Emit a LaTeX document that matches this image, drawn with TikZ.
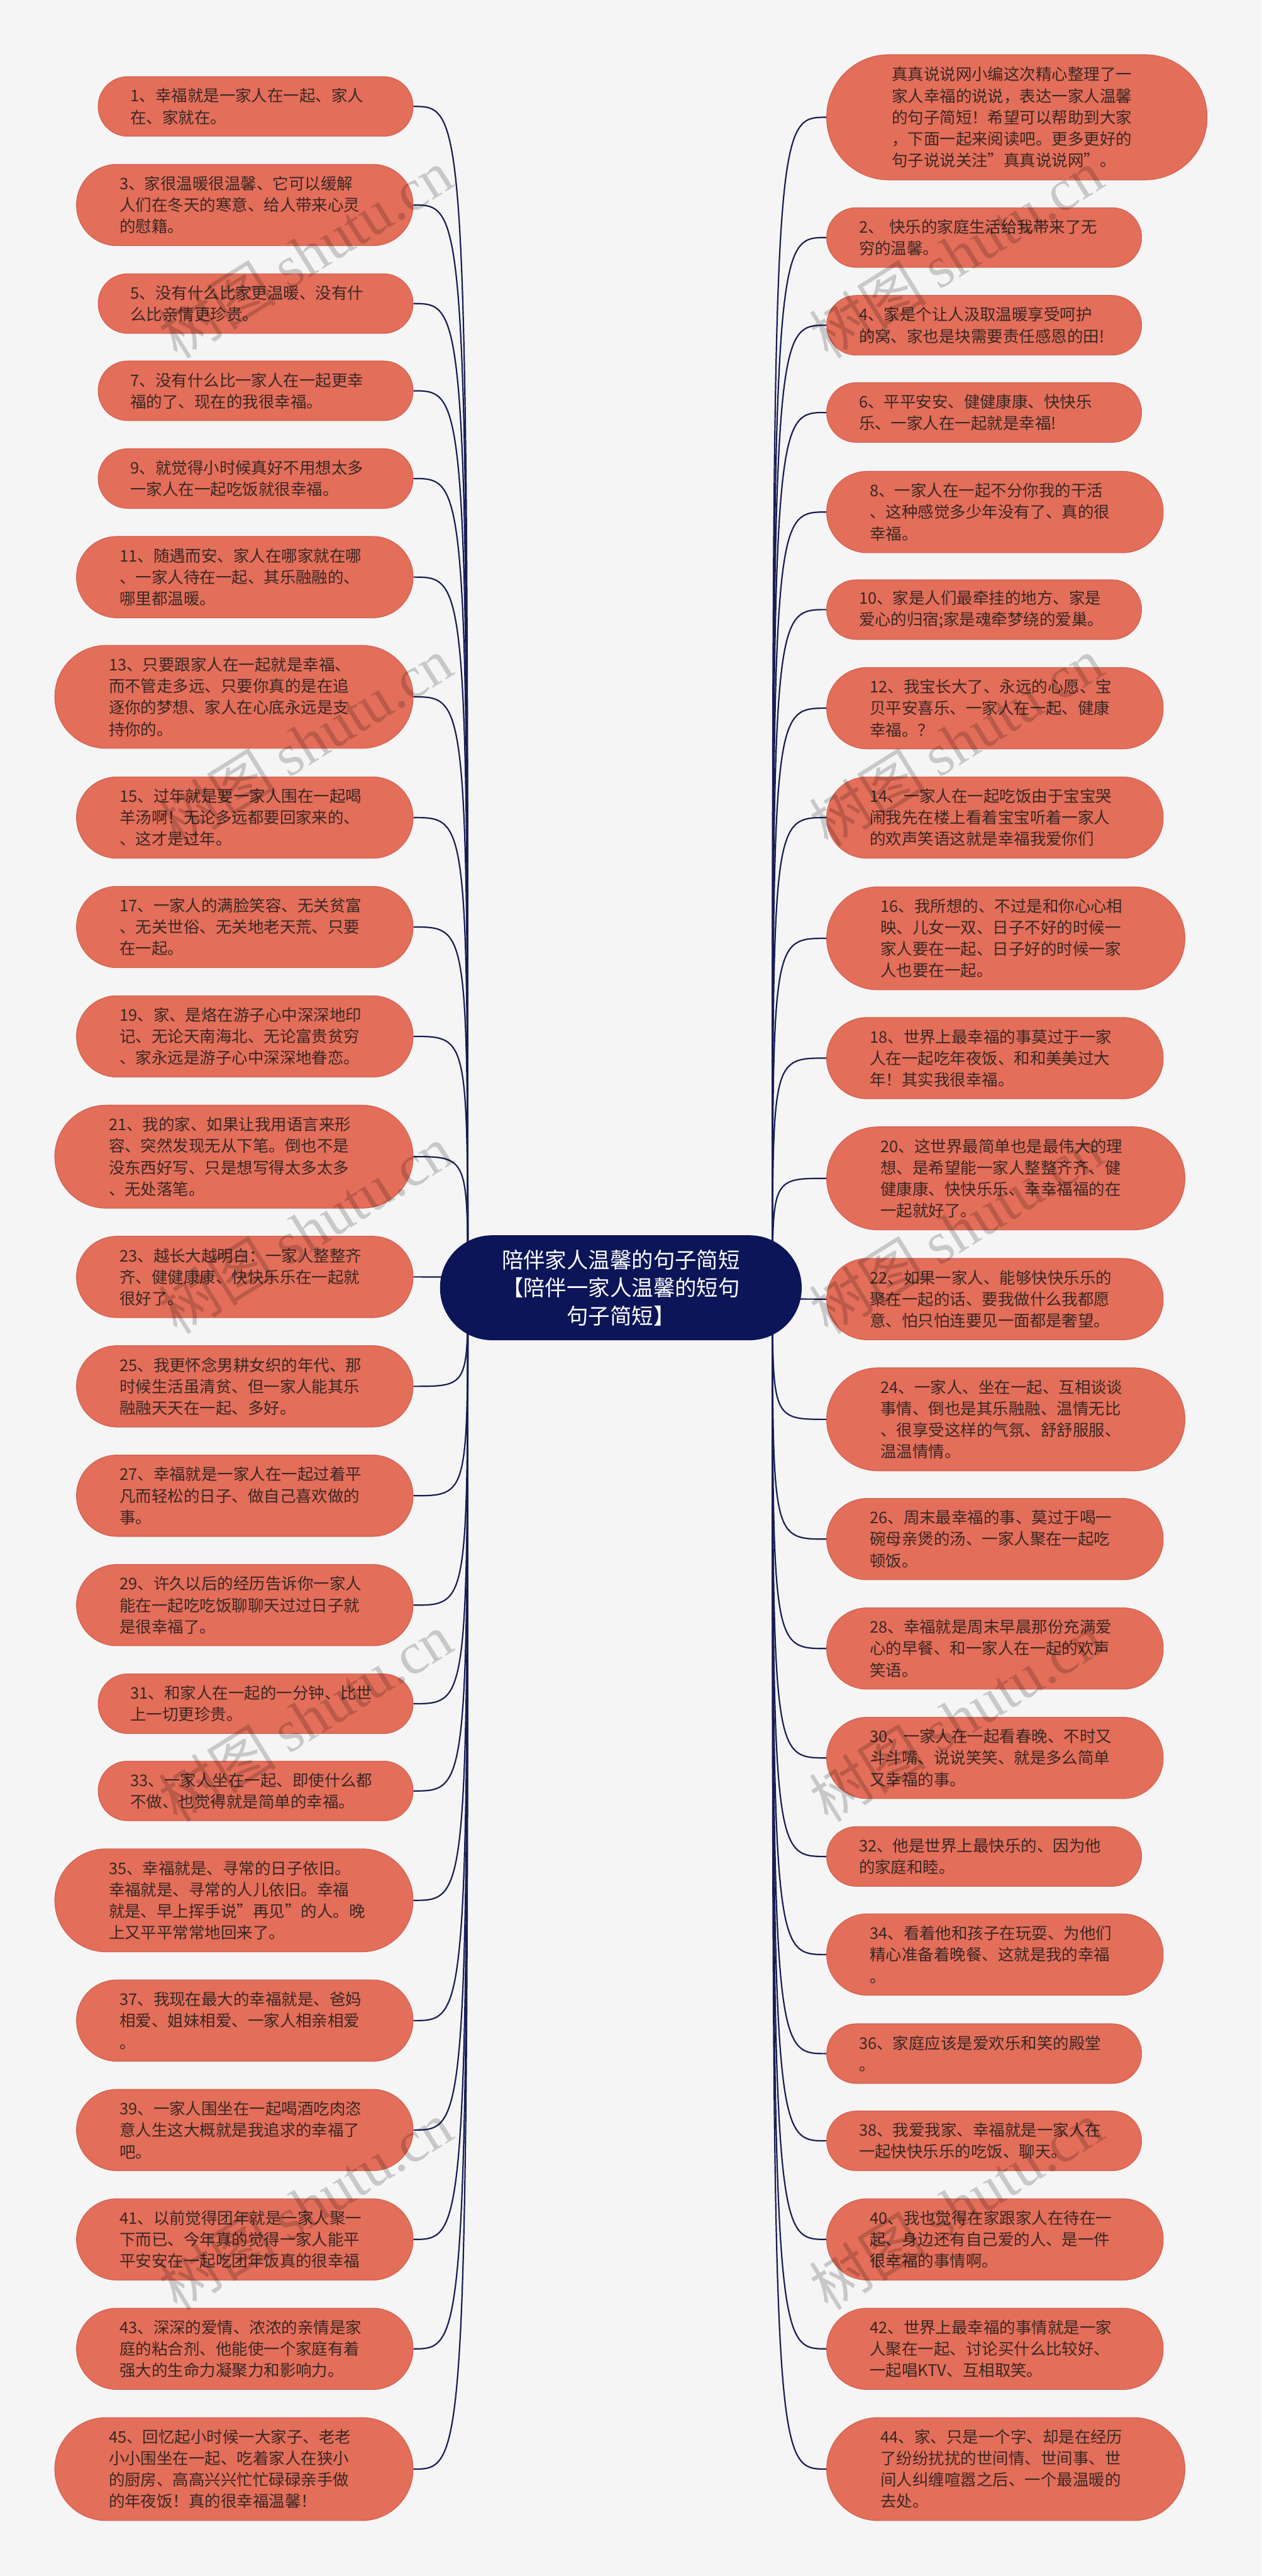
\documentclass[tikz,border=0pt]{standalone}
\usepackage{fontspec}
\setmainfont{Noto Sans CJK SC}
\newfontfamily\wmlatin{Liberation Serif}
\usetikzlibrary{calc,backgrounds}

\definecolor{bgcol}{RGB}{245,245,245}
\definecolor{leaf}{RGB}{227,110,90}
\definecolor{leafedge}{RGB}{212,96,78}
\definecolor{leaftext}{RGB}{58,40,36}
\definecolor{rootcol}{RGB}{11,21,88}
\definecolor{linkcol}{RGB}{24,30,84}

\tikzset{
  leafnode/.style={rectangle, fill=leaf, draw=leafedge, line width=0.4pt,
    text=leaftext, text width=5.08cm, inner xsep=0.05cm, inner ysep=2pt,
    align=left, font=\fontsize{9.25pt}{12.4pt}\selectfont},
  % 按行数决定胶囊大小
  h2/.style={minimum height=1.21cm, minimum width=6.39cm, rounded corners=0.6cm},
  h3/.style={minimum height=1.65cm, minimum width=6.83cm, rounded corners=0.82cm},
  h4/.style={minimum height=2.09cm, minimum width=7.27cm, rounded corners=1.04cm},
  h5/.style={minimum height=2.54cm, minimum width=7.72cm, rounded corners=1.26cm},
  lnode/.style={leafnode, anchor=east},
  rnode/.style={leafnode, anchor=west},
  rootnode/.style={rectangle, fill=rootcol, text=white, text width=5.1cm,
    inner xsep=0.05cm, inner ysep=2pt, align=center,
    minimum height=2.13cm, minimum width=7.34cm, rounded corners=1.06cm,
    font=\fontsize{12.5pt}{16.2pt}\selectfont},
  link/.style={draw=linkcol, line width=0.8pt},
  wmark/.style={rotate=32, text=black, text opacity=0.18,
    font=\fontsize{34pt}{34pt}\selectfont}
}

\begin{document}
\begin{tikzpicture}
  \def\xL{8.39}
  \def\xR{16.77}
  \useasboundingbox (0,0) rectangle (25.6,-52.27);

  % 中心主题
  \node[rootnode] (root) at (12.60,-26.13) {陪伴家人温馨的句子简短\\【陪伴一家人温馨的短句\\句子简短】};
  \coordinate (rl) at ($(root.west)+(0.57,0)$);
  \coordinate (rr) at ($(root.east)+(-0.60,0)$);

  % 左侧分支
  \node[lnode,h2] (l1) at (\xL,-2.16) {1、幸福就是一家人在一起、家人\\在、家就在。};
  \node[lnode,h3] (l3) at (\xL,-4.16) {3、家很温暖很温馨、它可以缓解\\人们在冬天的寒意、给人带来心灵\\的慰籍。};
  \node[lnode,h2] (l5) at (\xL,-6.16) {5、没有什么比家更温暖、没有什\\么比亲情更珍贵。};
  \node[lnode,h2] (l7) at (\xL,-7.93) {7、没有什么比一家人在一起更幸\\福的了、现在的我很幸福。};
  \node[lnode,h2] (l9) at (\xL,-9.71) {9、就觉得小时候真好不用想太多\\一家人在一起吃饭就很幸福。};
  \node[lnode,h3] (l11) at (\xL,-11.71) {11、随遇而安、家人在哪家就在哪\\、一家人待在一起、其乐融融的、\\哪里都温暖。};
  \node[lnode,h4] (l13) at (\xL,-14.14) {13、只要跟家人在一起就是幸福、\\而不管走多远、只要你真的是在追\\逐你的梦想、家人在心底永远是支\\持你的。};
  \node[lnode,h3] (l15) at (\xL,-16.59) {15、过年就是要一家人围在一起喝\\羊汤啊！无论多远都要回家来的、\\、这才是过年。};
  \node[lnode,h3] (l17) at (\xL,-18.81) {17、一家人的满脸笑容、无关贫富\\、无关世俗、无关地老天荒、只要\\在一起。};
  \node[lnode,h3] (l19) at (\xL,-21.03) {19、家、是烙在游子心中深深地印\\记、无论天南海北、无论富贵贫穷\\、家永远是游子心中深深地眷恋。};
  \node[lnode,h4] (l21) at (\xL,-23.47) {21、我的家、如果让我用语言来形\\容、突然发现无从下笔。倒也不是\\没东西好写、只是想写得太多太多\\、无处落笔。};
  \node[lnode,h3] (l23) at (\xL,-25.91) {23、越长大越明白：一家人整整齐\\齐、健健康康、快快乐乐在一起就\\很好了。};
  \node[lnode,h3] (l25) at (\xL,-28.13) {25、我更怀念男耕女织的年代、那\\时候生活虽清贫、但一家人能其乐\\融融天天在一起、多好。};
  \node[lnode,h3] (l27) at (\xL,-30.35) {27、幸福就是一家人在一起过着平\\凡而轻松的日子、做自己喜欢做的\\事。};
  \node[lnode,h3] (l29) at (\xL,-32.57) {29、许久以后的经历告诉你一家人\\能在一起吃吃饭聊聊天过过日子就\\是很幸福了。};
  \node[lnode,h2] (l31) at (\xL,-34.57) {31、和家人在一起的一分钟、比世\\上一切更珍贵。};
  \node[lnode,h2] (l33) at (\xL,-36.34) {33、一家人坐在一起、即使什么都\\不做、也觉得就是简单的幸福。};
  \node[lnode,h4] (l35) at (\xL,-38.56) {35、幸福就是、寻常的日子依旧。\\幸福就是、寻常的人儿依旧。幸福\\就是、早上挥手说"再见"的人。晚\\上又平平常常地回来了。};
  \node[lnode,h3] (l37) at (\xL,-41.00) {37、我现在最大的幸福就是、爸妈\\相爱、姐妹相爱、一家人相亲相爱\\。};
  \node[lnode,h3] (l39) at (\xL,-43.22) {39、一家人围坐在一起喝酒吃肉恣\\意人生这大概就是我追求的幸福了\\吧。};
  \node[lnode,h3] (l41) at (\xL,-45.44) {41、以前觉得团年就是一家人聚一\\下而已、今年真的觉得一家人能平\\平安安在一起吃团年饭真的很幸福};
  \node[lnode,h3] (l43) at (\xL,-47.66) {43、深深的爱情、浓浓的亲情是家\\庭的粘合剂、他能使一个家庭有着\\强大的生命力凝聚力和影响力。};
  \node[lnode,h4] (l45) at (\xL,-50.10) {45、回忆起小时候一大家子、老老\\小小围坐在一起、吃着家人在狭小\\的厨房、高高兴兴忙忙碌碌亲手做\\的年夜饭！真的很幸福温馨！};

  % 右侧分支
  \node[rnode,h5] (r0) at (\xR,-2.38) {真真说说网小编这次精心整理了一\\家人幸福的说说，表达一家人温馨\\的句子简短！希望可以帮助到大家\\，下面一起来阅读吧。更多更好的\\句子说说关注"真真说说网"。};
  \node[rnode,h2] (r2) at (\xR,-4.82) {2、 快乐的家庭生活给我带来了无\\穷的温馨。};
  \node[rnode,h2] (r4) at (\xR,-6.60) {4、家是个让人汲取温暖享受呵护\\的窝、家也是块需要责任感恩的田!};
  \node[rnode,h2] (r6) at (\xR,-8.37) {6、平平安安、健健康康、快快乐\\乐、一家人在一起就是幸福!};
  \node[rnode,h3] (r8) at (\xR,-10.39) {8、一家人在一起不分你我的干活\\、这种感觉多少年没有了、真的很\\幸福。};
  \node[rnode,h2] (r10) at (\xR,-12.37) {10、家是人们最牵挂的地方、家是\\爱心的归宿;家是魂牵梦绕的爱巢。};
  \node[rnode,h3] (r12) at (\xR,-14.37) {12、我宝长大了、永远的心愿、宝\\贝平安喜乐、一家人在一起、健康\\幸福。？};
  \node[rnode,h3] (r14) at (\xR,-16.59) {14、一家人在一起吃饭由于宝宝哭\\闹我先在楼上看着宝宝听着一家人\\的欢声笑语这就是幸福我爱你们};
  \node[rnode,h4] (r16) at (\xR,-19.04) {16、我所想的、不过是和你心心相\\映、儿女一双、日子不好的时候一\\家人要在一起、日子好的时候一家\\人也要在一起。};
  \node[rnode,h3] (r18) at (\xR,-21.47) {18、世界上最幸福的事莫过于一家\\人在一起吃年夜饭、和和美美过大\\年！其实我很幸福。};
  \node[rnode,h4] (r20) at (\xR,-23.91) {20、这世界最简单也是最伟大的理\\想、是希望能一家人整整齐齐、健\\健康康、快快乐乐、幸幸福福的在\\一起就好了。};
  \node[rnode,h3] (r22) at (\xR,-26.36) {22、如果一家人、能够快快乐乐的\\聚在一起的话、要我做什么我都愿\\意、怕只怕连要见一面都是奢望。};
  \node[rnode,h4] (r24) at (\xR,-28.80) {24、一家人、坐在一起、互相谈谈\\事情、倒也是其乐融融、温情无比\\、很享受这样的气氛、舒舒服服、\\温温情情。};
  \node[rnode,h3] (r26) at (\xR,-31.23) {26、周末最幸福的事、莫过于喝一\\碗母亲煲的汤、一家人聚在一起吃\\顿饭。};
  \node[rnode,h3] (r28) at (\xR,-33.45) {28、幸福就是周末早晨那份充满爱\\心的早餐、和一家人在一起的欢声\\笑语。};
  \node[rnode,h3] (r30) at (\xR,-35.67) {30、一家人在一起看春晚、不时又\\斗斗嘴、说说笑笑、就是多么简单\\又幸福的事。};
  \node[rnode,h2] (r32) at (\xR,-37.67) {32、他是世界上最快乐的、因为他\\的家庭和睦。};
  \node[rnode,h3] (r34) at (\xR,-39.66) {34、看着他和孩子在玩耍、为他们\\精心准备着晚餐、这就是我的幸福\\。};
  \node[rnode,h2] (r36) at (\xR,-41.67) {36、家庭应该是爱欢乐和笑的殿堂\\。};
  \node[rnode,h2] (r38) at (\xR,-43.44) {38、我爱我家、幸福就是一家人在\\一起快快乐乐的吃饭、聊天。};
  \node[rnode,h3] (r40) at (\xR,-45.44) {40、我也觉得在家跟家人在待在一\\起、身边还有自己爱的人、是一件\\很幸福的事情啊。};
  \node[rnode,h3] (r42) at (\xR,-47.66) {42、世界上最幸福的事情就是一家\\人聚在一起、讨论买什么比较好、\\一起唱KTV、互相取笑。};
  \node[rnode,h4] (r44) at (\xR,-50.10) {44、家、只是一个字、却是在经历\\了纷纷扰扰的世间情、世间事、世\\间人纠缠喧嚣之后、一个最温暖的\\去处。};

  % 背景与连线
  \begin{scope}[on background layer]
    \fill[bgcol] (0,0) rectangle (25.6,-52.27);
    \foreach \k in {1,3,...,45}
      \draw[link] (rl) .. controls (rl |- l\k.east) .. (l\k.east);
    \foreach \k in {0,2,...,44}
      \draw[link] (rr) .. controls (rr |- r\k.west) .. (r\k.west);
  \end{scope}

  % 水印
  \foreach \wy [count=\i] in {5.15,15.05,24.95,34.85,44.75}{
    \node[wmark] (wml\i) at (6.2,-\wy) {树图 {\wmlatin shutu.cn}};
    \node[wmark] (wmr\i) at (19.4,-\wy) {树图 {\wmlatin shutu.cn}};
  }
\end{tikzpicture}
\end{document}
